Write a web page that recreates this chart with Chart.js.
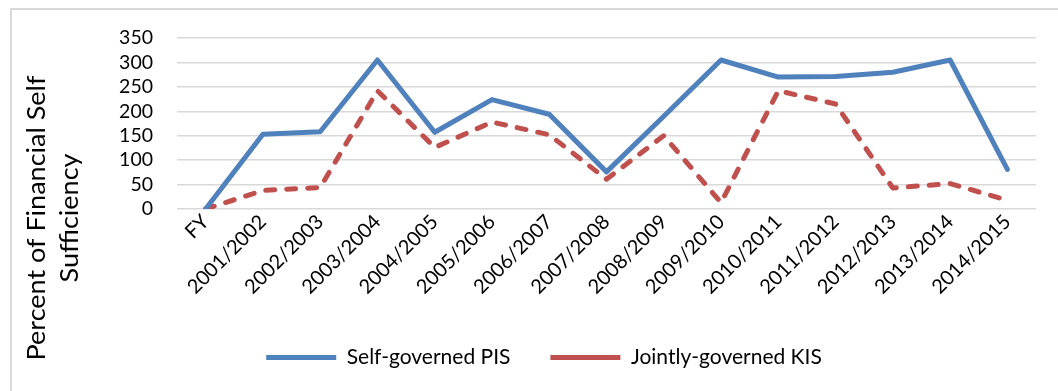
<!DOCTYPE html>
<html>
<head>
<meta charset="utf-8">
<script src="https://cdn.jsdelivr.net/npm/chart.js@4"></script>
<style>
  html, body { margin: 0; padding: 0; background: #fff; overflow: hidden; }
  body { width: 1058px; height: 391px; position: relative; }
  #frame {
    position: absolute; left: 10px; top: 8px; width: 1100px; height: 420px;
    border-left: 2px solid #d9d9d9; border-top: 2px solid #d9d9d9;
  }
  #chart { position: absolute; left: 0; top: 0; }
</style>
</head>
<body>
<div id="frame"><canvas id="chart" width="1064" height="381"></canvas></div>
<script>
// Financial self sufficiency by governance type

const categories = ['FY', '2001/2002', '2002/2003', '2003/2004', '2004/2005', '2005/2006',
  '2006/2007', '2007/2008', '2008/2009', '2009/2010', '2010/2011', '2011/2012',
  '2012/2013', '2013/2014', '2014/2015'];
const selfGovernedPIS = [0, 153, 158, 305, 157, 224, 194, 76, 190, 305, 270, 271, 280, 305, 81];
const jointlyGovernedKIS = [0, 38, 44, 242, 126, 178, 152, 61, 150, 13, 242, 215, 43, 52, 18];
const yTitleLines = ['Percent of Financial Self', 'Sufficiency'];

const FONT = 'Lato';

// y-axis title sits off-centre in the original, so draw it by hand
const yTitlePlugin = {
  id: 'yTitle',
  afterDraw(chart) {
    const ctx = chart.ctx;
    ctx.save();
    ctx.font = '25px ' + FONT;
    ctx.fillStyle = '#000';
    ctx.textAlign = 'center';
    ctx.textBaseline = 'middle';
    const xs = [25, 58];
    yTitleLines.forEach((line, i) => {
      ctx.save();
      ctx.translate(xs[i], 208);
      ctx.rotate(-Math.PI / 2);
      ctx.scale(1.08, 1);
      ctx.fillText(line, 0, 0);
      ctx.restore();
    });
    ctx.restore();
  }
};

new Chart(document.getElementById('chart').getContext('2d'), {
  type: 'line',
  data: {
    labels: categories,
    datasets: [
      {
        label: 'Self-governed PIS',
        data: selfGovernedPIS,
        borderColor: '#4f81bd',
        backgroundColor: '#4f81bd',
        borderWidth: 5,
        borderCapStyle: 'round',
        borderJoinStyle: 'round',
        pointRadius: 0,
        tension: 0
      },
      {
        label: 'Jointly-governed KIS',
        data: jointlyGovernedKIS,
        borderColor: '#c0504d',
        backgroundColor: '#c0504d',
        borderWidth: 5,
        borderDash: [9, 12],
        borderCapStyle: 'round',
        borderJoinStyle: 'round',
        pointRadius: 0,
        tension: 0
      }
    ]
  },
  options: {
    responsive: false,
    animation: false,
    // left padding keeps the legend centred on the whole frame
    layout: { padding: { top: 28, right: 40, bottom: 13, left: 40 } },
    plugins: {
      tooltip: { enabled: false },
      legend: {
        position: 'bottom',
        labels: {
          usePointStyle: true,
          pointStyle: 'line',
          pointStyleWidth: 70,
          boxHeight: 19,
          padding: 40,
          color: '#000',
          font: { family: FONT, size: 21 }
        }
      }
    },
    scales: {
      x: {
        offset: true,
        grid: { display: false, drawTicks: false },
        border: { display: false },
        ticks: {
          autoSkip: false,
          maxRotation: 45,
          minRotation: 45,
          padding: 1,
          color: '#000',
          font: { family: FONT, size: 20 }
        },
        afterFit(scale) { scale.height = 98; }
      },
      y: {
        min: 0,
        max: 350,
        grid: { color: '#d9d9d9', lineWidth: 1.5, tickLength: 24, tickColor: 'rgba(0,0,0,0)' },
        border: { display: false },
        ticks: {
          stepSize: 50,
          autoSkip: false,
          padding: 0,
          color: '#000',
          font: { family: FONT, size: 19.5 }
        },
        afterFit(scale) { scale.width = 125; }
      }
    }
  },
  plugins: [yTitlePlugin]
});
</script>
</body>
</html>
